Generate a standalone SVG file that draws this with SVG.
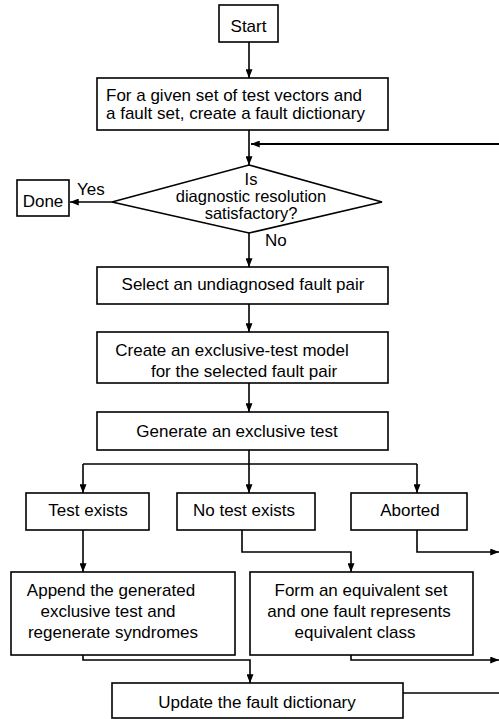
<svg xmlns="http://www.w3.org/2000/svg" width="499" height="719" viewBox="0 0 499 719">
<defs>
<marker id="ah" viewBox="0 0 10 8" refX="10" refY="4" markerWidth="10" markerHeight="7" markerUnits="userSpaceOnUse" orient="auto">
<path d="M0,0 L10,4 L0,8 Z" fill="#000"/>
</marker>
<style>
.b{fill:#fff;stroke:#000;stroke-width:1.6}
.t{font-family:"Liberation Sans",Arial,sans-serif;font-size:17px;fill:#000}
.d{font-size:16.5px}
.m{text-anchor:middle}
.c{fill:none;stroke:#000;stroke-width:1.6}
</style>
</defs>
<rect width="499" height="719" fill="#fff"/>
<g id="connectors">
<path class="c" d="M249,42 V78" marker-end="url(#ah)"/>
<path class="c" d="M249,130 V165" marker-end="url(#ah)"/>
<path class="c" d="M499,144 H251" marker-end="url(#ah)" style="stroke-width:2"/>
<path class="c" d="M112,202 H70" marker-end="url(#ah)"/>
<path class="c" d="M249,233 V267" marker-end="url(#ah)"/>
<path class="c" d="M249,304 V332" marker-end="url(#ah)"/>
<path class="c" d="M249,383 V412" marker-end="url(#ah)"/>
<path class="c" d="M249,450 V464"/>
<path class="c" d="M83,464 H417"/>
<path class="c" d="M83,464 V493" marker-end="url(#ah)"/>
<path class="c" d="M249,464 V493" marker-end="url(#ah)"/>
<path class="c" d="M417,464 V493" marker-end="url(#ah)"/>
<path class="c" d="M83,530 V572" marker-end="url(#ah)"/>
<path class="c" d="M242,530 V552 H351 V572" marker-end="url(#ah)"/>
<path class="c" d="M417,530 V552 H499" marker-end="url(#ah)"/>
<path class="c" d="M83,655 V660 H250 V683" marker-end="url(#ah)"/>
<path class="c" d="M351,655 V660 H499" marker-end="url(#ah)"/>
<path class="c" d="M403,693 H499"/>
</g>
<g id="start"><rect class="b" x="219" y="5" width="59" height="37"/><text class="t m" x="248.5" y="32">Start</text></g>
<g id="create-dict"><rect class="b" x="97" y="78" width="291" height="52"/><text class="t" x="106" y="101">For a given set of test vectors and</text><text class="t" x="106" y="119">a fault set, create a fault dictionary</text></g>
<g id="decision"><path class="b" d="M249,165 L382,202 L249,233 L112,202 Z"/><text class="t d m" x="251" y="185">Is</text><text class="t d m" x="251" y="202">diagnostic resolution</text><text class="t d m" x="251" y="219">satisfactory?</text></g>
<g id="done"><rect class="b" x="17" y="180" width="52" height="36"/><text class="t m" x="43" y="207">Done</text></g>
<text class="t" x="77" y="195">Yes</text>
<text class="t" x="265" y="246">No</text>
<g id="select"><rect class="b" x="97" y="267" width="291" height="37"/><text class="t m" x="243" y="290">Select an undiagnosed fault pair</text></g>
<g id="model"><rect class="b" x="97" y="332" width="291" height="51"/><text class="t m" x="232" y="356">Create an exclusive-test model</text><text class="t m" x="244" y="377">for the selected fault pair</text></g>
<g id="generate"><rect class="b" x="97" y="412" width="291" height="38"/><text class="t m" x="237" y="437">Generate an exclusive test</text></g>
<g id="test-exists"><rect class="b" x="26" y="493" width="123" height="37"/><text class="t m" x="88" y="516">Test exists</text></g>
<g id="no-test"><rect class="b" x="177" y="493" width="138" height="37"/><text class="t m" x="244" y="516">No test exists</text></g>
<g id="aborted"><rect class="b" x="351" y="493" width="116" height="37"/><text class="t m" x="410" y="516">Aborted</text></g>
<g id="append"><rect class="b" x="11" y="572" width="224" height="83"/><text class="t m" x="111" y="596">Append the generated</text><text class="t m" x="108" y="617">exclusive test and</text><text class="t m" x="113" y="638">regenerate syndromes</text></g>
<g id="equivalent"><rect class="b" x="250" y="572" width="223" height="83"/><text class="t m" x="361" y="596">Form an equivalent set</text><text class="t m" x="359" y="617">and one fault represents</text><text class="t m" x="355" y="638">equivalent class</text></g>
<g id="update"><rect class="b" x="112" y="683" width="291" height="35"/><text class="t m" x="257" y="708">Update the fault dictionary</text></g>
</svg>
